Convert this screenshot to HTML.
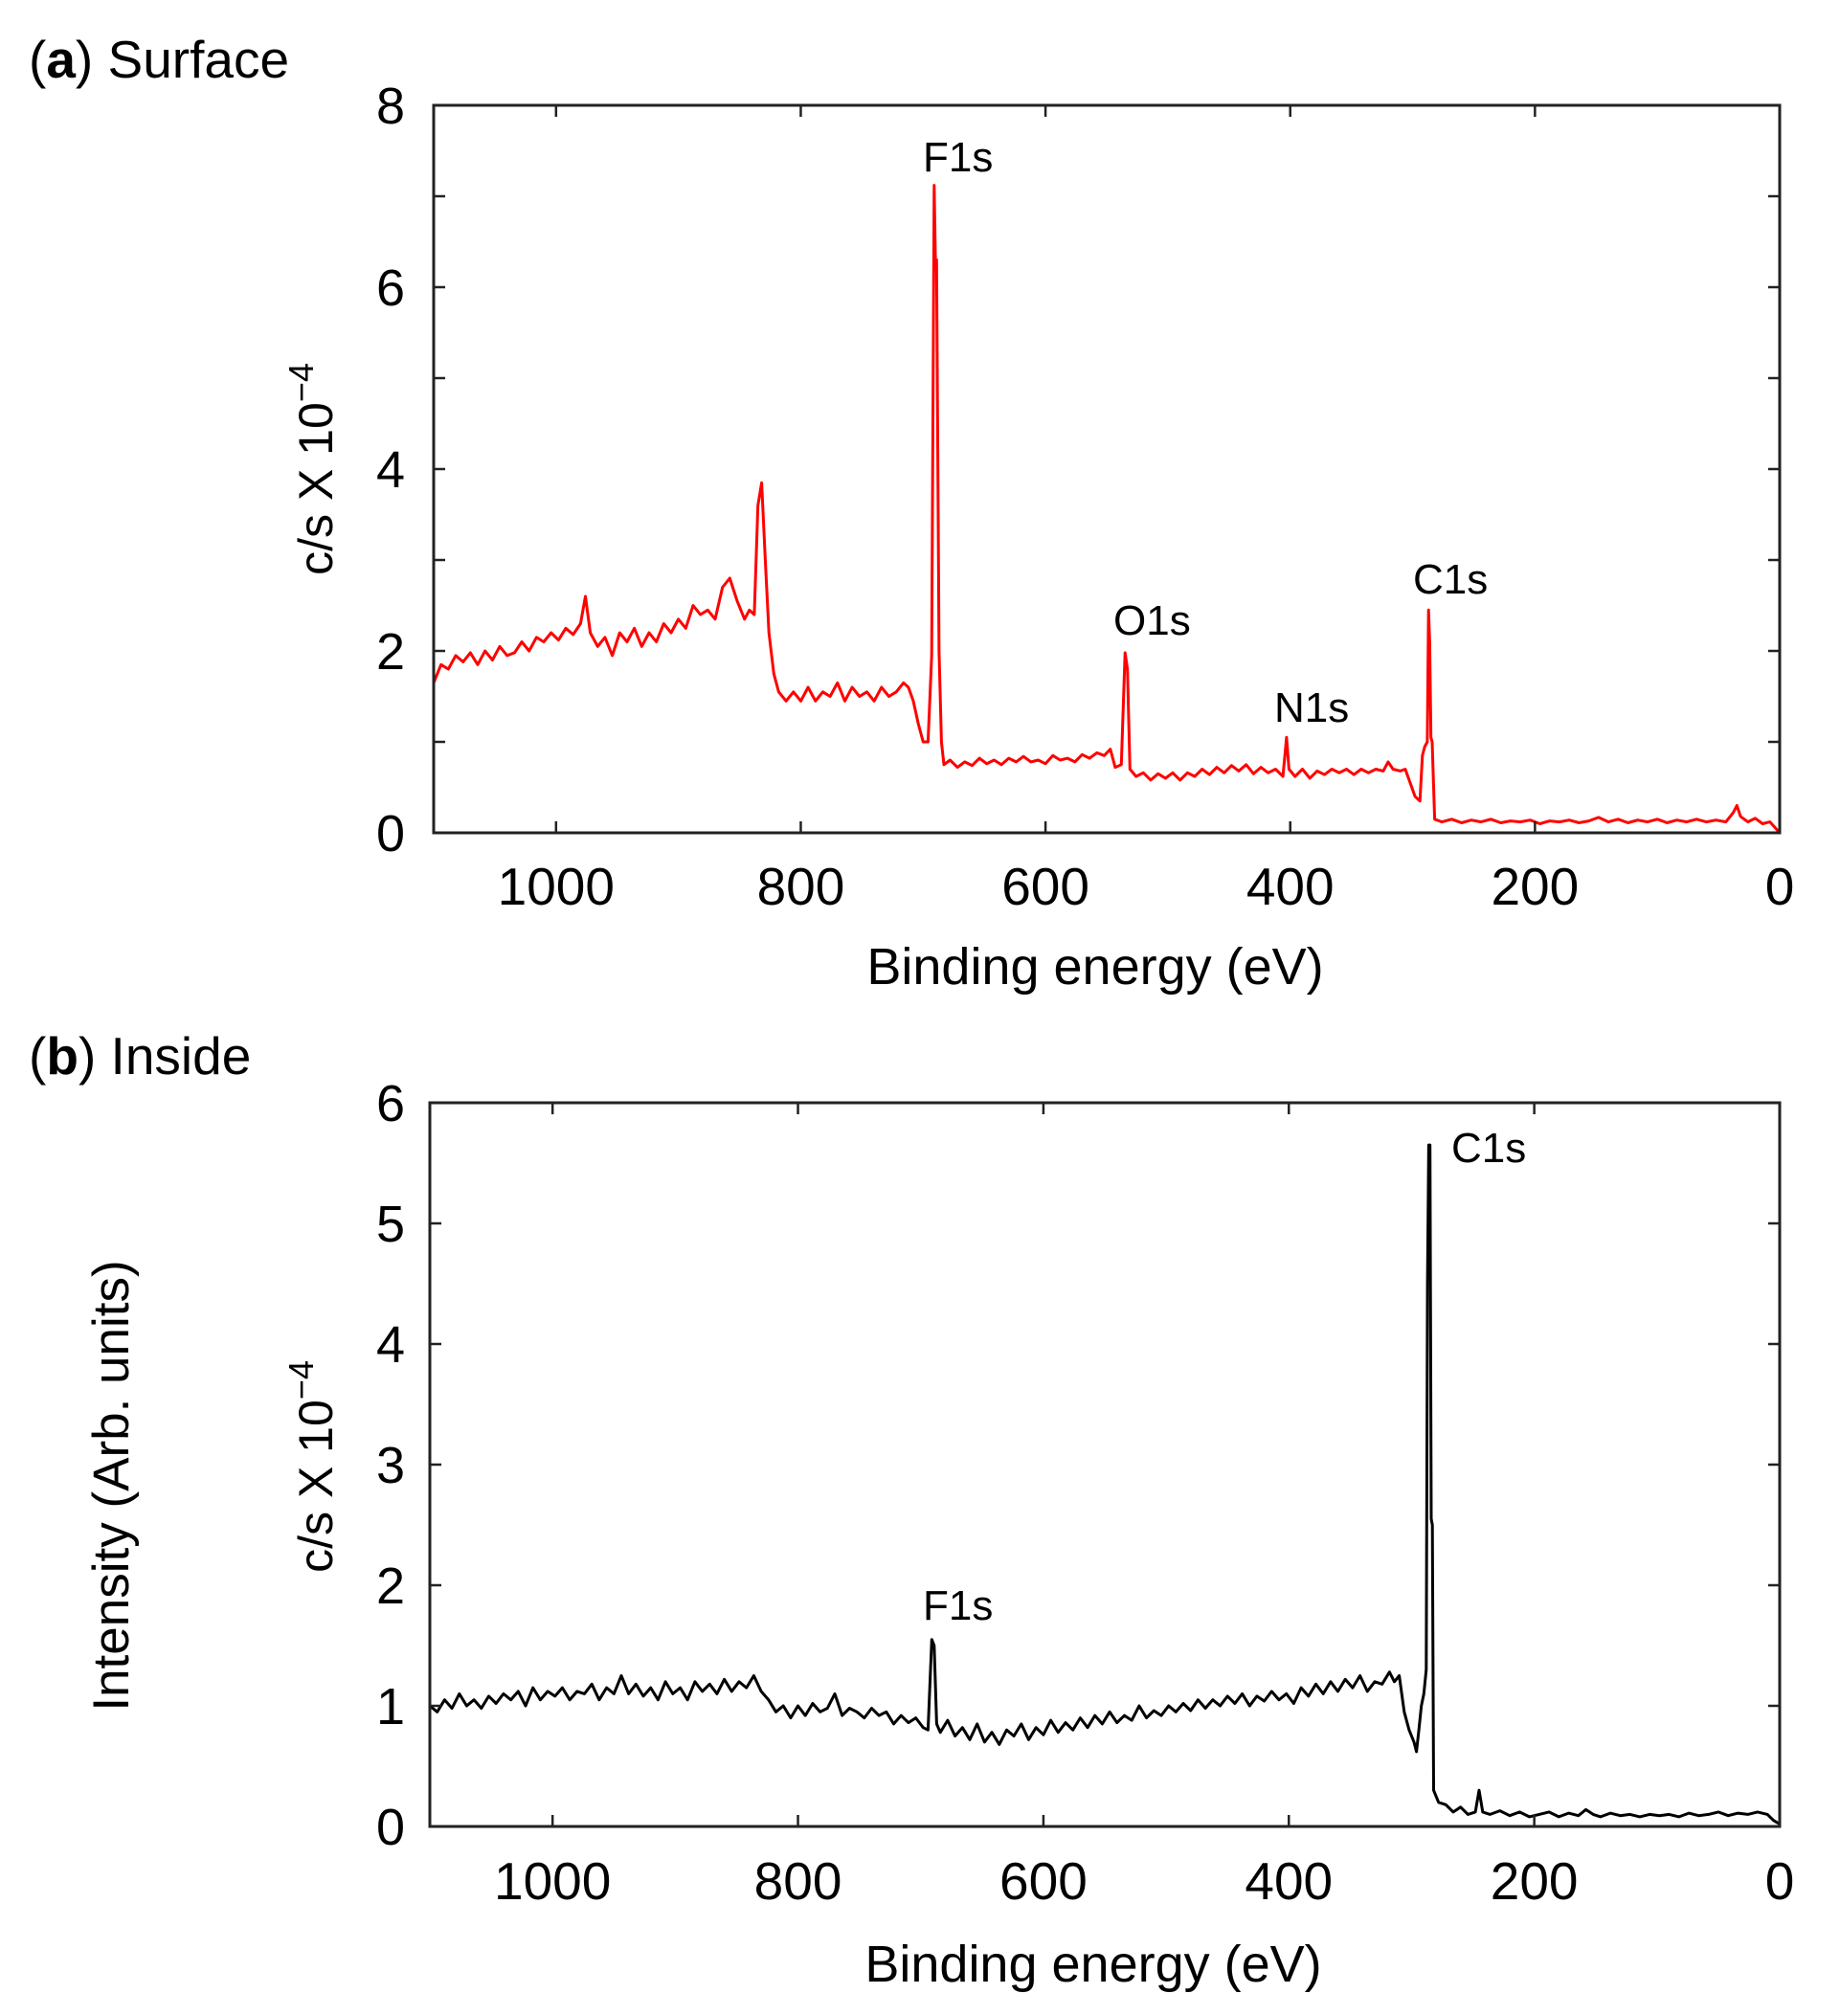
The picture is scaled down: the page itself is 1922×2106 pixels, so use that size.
<!DOCTYPE html>
<html>
<head>
<meta charset="utf-8">
<style>
html,body{margin:0;padding:0;background:#fff;}
svg{display:block;font-family:"Liberation Sans",Arial,sans-serif;}
</style>
</head>
<body>
<svg id="fig" width="1922" height="2106" viewBox="0 0 1922 2106" xmlns="http://www.w3.org/2000/svg">
  <text x="30" y="81" font-size="55" fill="#000">(<tspan font-weight="bold">a</tspan>) Surface</text>
  <text x="30" y="1122" font-size="55" fill="#000">(<tspan font-weight="bold">b</tspan>) Inside</text>
  <text transform="translate(134,1552) rotate(-90)" text-anchor="middle" font-size="53" fill="#000">Intensity (Arb. units)</text>
  <g id="panelA"></g>
  <g id="panelB"></g>
</svg>
<script>
// ---- data (binding energy eV, intensity c/s x 1e-4) ----
const xTicks = [1000, 800, 600, 400, 200, 0];
const yTicksA = [0, 2, 4, 6, 8];
const yTicksB = [0, 1, 2, 3, 4, 5, 6];
const energiesA = [1100,1094,1088,1082,1076,1070,1064,1058,1052,1046,1040,1034,1028,1022,1016,1010,1004,998,992,986,980,976,972,966,960,954,948,942,936,930,924,918,912,906,900,894,888,882,876,870,864,858,852,846,842,838,835,832,829,826,822,818,812,806,800,794,788,782,776,770,764,758,752,746,740,734,728,722,716,712,708,704,700,696,693,691,690,689,687,685,683,678,672,666,660,654,648,642,636,630,624,618,612,606,600,594,588,582,576,570,564,558,552,547,543,538,535,533,531,526,520,514,508,502,496,490,484,478,472,466,460,454,448,442,436,430,424,418,412,406,403,401,396,390,384,378,372,366,360,354,348,342,336,330,324,320,316,310,306,302,298,294,292,290,288,287,286,285,284,282,276,268,260,252,244,236,228,220,212,204,196,188,180,172,164,156,148,140,132,124,116,108,100,92,84,76,68,60,52,44,38,35,32,26,20,14,8,4,0];
const valuesA = [1.65,1.85,1.8,1.95,1.88,1.98,1.85,2.0,1.9,2.05,1.95,1.98,2.1,2.0,2.15,2.1,2.2,2.12,2.25,2.18,2.3,2.6,2.2,2.05,2.15,1.95,2.2,2.1,2.25,2.05,2.2,2.1,2.3,2.2,2.35,2.25,2.5,2.4,2.45,2.35,2.7,2.8,2.55,2.35,2.45,2.4,3.6,3.85,3.0,2.2,1.75,1.55,1.45,1.55,1.45,1.6,1.45,1.55,1.5,1.65,1.45,1.6,1.5,1.55,1.45,1.6,1.5,1.55,1.65,1.6,1.45,1.2,1.0,1.0,1.95,7.12,6.3,6.3,2.0,1.0,0.75,0.8,0.72,0.78,0.74,0.82,0.76,0.8,0.75,0.82,0.78,0.84,0.78,0.8,0.76,0.85,0.8,0.82,0.78,0.86,0.82,0.88,0.85,0.92,0.72,0.75,1.98,1.8,0.7,0.62,0.66,0.58,0.65,0.6,0.66,0.58,0.66,0.62,0.7,0.64,0.72,0.66,0.74,0.68,0.75,0.65,0.72,0.66,0.7,0.62,1.05,0.7,0.62,0.7,0.6,0.68,0.64,0.7,0.66,0.7,0.64,0.7,0.66,0.7,0.68,0.78,0.7,0.68,0.7,0.55,0.4,0.35,0.85,0.95,1.0,2.45,2.1,1.05,1.0,0.15,0.12,0.15,0.11,0.14,0.12,0.15,0.11,0.13,0.12,0.14,0.1,0.13,0.12,0.14,0.11,0.13,0.17,0.12,0.15,0.11,0.14,0.12,0.15,0.11,0.14,0.12,0.15,0.12,0.14,0.12,0.22,0.3,0.18,0.12,0.16,0.1,0.12,0.06,0.0];
const energiesB = [1100,1094,1088,1082,1076,1070,1064,1058,1052,1046,1040,1034,1028,1022,1016,1010,1004,998,992,986,980,974,968,962,956,950,944,938,932,926,920,914,908,902,896,890,884,878,872,866,860,854,848,842,836,830,824,818,812,806,800,794,788,782,776,770,764,758,752,746,740,734,728,722,716,710,704,698,694,691,689,687,684,678,672,666,660,654,648,642,636,630,624,618,612,606,600,594,588,582,576,570,564,558,552,546,540,534,528,522,516,510,504,498,492,486,480,474,468,462,456,450,444,438,432,426,420,414,408,402,396,390,384,378,372,366,360,354,348,342,336,330,324,318,314,310,306,302,298,296,294,292,290,288,287,286,285,284,283,282,278,272,266,260,254,248,245,242,236,228,220,212,204,196,188,180,172,164,158,152,146,138,130,122,114,106,98,90,82,74,66,58,50,42,34,26,18,10,5,0];
const valuesB = [1.0,0.95,1.05,0.98,1.1,1.0,1.05,0.98,1.08,1.02,1.1,1.05,1.12,1.0,1.15,1.05,1.12,1.08,1.15,1.05,1.12,1.1,1.18,1.05,1.15,1.1,1.25,1.1,1.18,1.08,1.15,1.05,1.2,1.1,1.15,1.05,1.2,1.12,1.18,1.1,1.22,1.12,1.2,1.15,1.25,1.12,1.05,0.95,1.0,0.9,1.0,0.92,1.02,0.95,0.98,1.1,0.92,0.98,0.95,0.9,0.98,0.92,0.95,0.85,0.92,0.86,0.9,0.82,0.8,1.55,1.5,0.85,0.78,0.88,0.75,0.82,0.72,0.85,0.7,0.78,0.68,0.8,0.75,0.85,0.72,0.82,0.76,0.88,0.78,0.86,0.8,0.9,0.82,0.92,0.85,0.95,0.86,0.92,0.88,1.0,0.9,0.96,0.92,1.0,0.95,1.02,0.96,1.05,0.98,1.05,1.0,1.08,1.02,1.1,1.0,1.08,1.04,1.12,1.05,1.1,1.02,1.15,1.08,1.18,1.1,1.2,1.12,1.22,1.15,1.25,1.12,1.2,1.18,1.28,1.2,1.25,0.95,0.8,0.7,0.62,0.8,1.0,1.1,1.3,4.5,5.65,5.65,2.55,2.5,0.3,0.2,0.18,0.12,0.16,0.1,0.12,0.3,0.12,0.1,0.13,0.09,0.12,0.08,0.1,0.12,0.08,0.11,0.09,0.14,0.1,0.08,0.11,0.09,0.1,0.08,0.1,0.09,0.1,0.08,0.11,0.09,0.1,0.12,0.09,0.11,0.1,0.12,0.1,0.05,0.02];
const peakNamesA = ["F1s", "O1s", "N1s", "C1s"];
const peakNamesB = ["C1s", "F1s"];

const NS = "http://www.w3.org/2000/svg";
function mk(parent, tag, attrs, text) {
  const el = document.createElementNS(NS, tag);
  for (const k in attrs) el.setAttribute(k, attrs[k]);
  if (text !== undefined) el.textContent = text;
  parent.appendChild(el);
  return el;
}

function drawPanel(g, cfg) {
  const L = cfg.left, R = cfg.right, T = cfg.top, B = cfg.bottom;
  const xScale = e => L + (1100 - e) / 1100 * (R - L);
  const yScale = v => B - v / cfg.ymax * (B - T);
  let pts = [];
  for (let i = 0; i < cfg.energies.length; i++) {
    pts.push(xScale(cfg.energies[i]).toFixed(1) + "," + yScale(cfg.values[i]).toFixed(1));
  }
  const line = mk(g, "polyline", {points: pts.join(" "), fill: "none", stroke: cfg.color, "stroke-width": 3, "stroke-linejoin": "round"});
  
  
  const frame = mk(g, "rect", {x: L, y: T, width: R - L, height: B - T, fill: "none", stroke: "#222", "stroke-width": 3});
  
  
  xTicks.forEach(t => {
    const x = xScale(t);
    mk(g, "line", {x1: x, y1: B, x2: x, y2: B - 12, stroke: "#222", "stroke-width": 2.5});
    mk(g, "line", {x1: x, y1: T, x2: x, y2: T + 12, stroke: "#222", "stroke-width": 2.5});
    const lab = mk(g, "text", {x: x, y: cfg.xLabelY, "text-anchor": "middle", "font-size": 55, fill: "#000"}, String(t));
    
    
  });
  for (let v = 0; v <= cfg.ymax + 1e-9; v += cfg.minorStep) {
    const y = yScale(v);
    mk(g, "line", {x1: L, y1: y, x2: L + 12, y2: y, stroke: "#222", "stroke-width": 2.5});
    mk(g, "line", {x1: R, y1: y, x2: R - 12, y2: y, stroke: "#222", "stroke-width": 2.5});
  }
  cfg.yTicks.forEach(v => {
    const lab = mk(g, "text", {x: 423, y: yScale(v) + 19, "text-anchor": "end", "font-size": 54, fill: "#000"}, String(v));
    
    
  });
  const xt = mk(g, "text", {x: (L + R) / 2 - 12, y: cfg.xTitleY, "text-anchor": "middle", "font-size": 54, fill: "#000"}, "Binding energy (eV)");
  
  
  const yt = mk(g, "text", {transform: "translate(347," + cfg.yTitleY + ") rotate(-90)", "text-anchor": "middle", "font-size": 50, fill: "#000"});
  
  
  mk(yt, "tspan", {}, "c/s X 10");
  mk(yt, "tspan", {dy: -20, "font-size": 36}, "\u22124");
  cfg.peaks.forEach((p, i) => {
    const t = mk(g, "text", {x: p[0], y: p[1], "font-size": 44, fill: "#000"}, cfg.peakNames[i]);
    
    
  });
}

drawPanel(document.getElementById("panelA"), {
  prefix: "panel-a", left: 453, right: 1859, top: 110, bottom: 870, ymax: 8, minorStep: 1,
  energies: energiesA, values: valuesA, color: "#ff0000", yTicks: yTicksA,
  xLabelY: 945, xTitleY: 1028, yTitleY: 490,
  peakNames: peakNamesA, peaks: [[964, 179], [1163, 663], [1331, 754], [1476, 620]]
});
drawPanel(document.getElementById("panelB"), {
  prefix: "panel-b", left: 449, right: 1859, top: 1152, bottom: 1908, ymax: 6, minorStep: 1,
  energies: energiesB, values: valuesB, color: "#000000", yTicks: yTicksB,
  xLabelY: 1984, xTitleY: 2070, yTitleY: 1532,
  peakNames: peakNamesB, peaks: [[1516, 1214], [964, 1692]]
});
</script>
</body>
</html>
